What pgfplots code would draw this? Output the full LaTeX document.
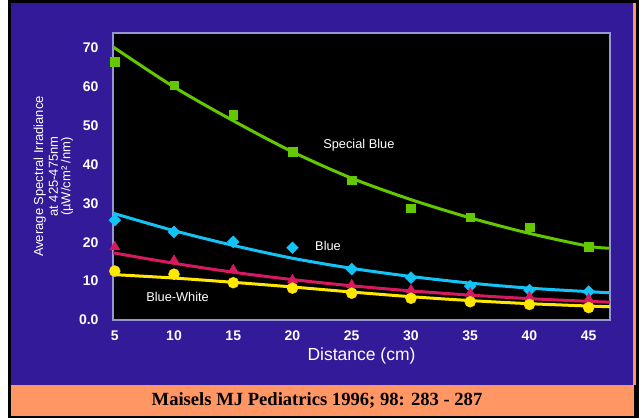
\documentclass[border=0pt]{standalone}
\usepackage{pgfplots}
\pgfplotsset{compat=1.18}
\usepackage{fontspec}
\setmainfont{Liberation Sans}
\newfontfamily\serifbf{Liberation Serif}
\definecolor{bgpurple}{RGB}{50,26,152}
\definecolor{banner}{RGB}{255,150,100}
\definecolor{frameC}{RGB}{150,150,215}
\definecolor{cgreen}{RGB}{100,200,0}
\definecolor{ccyan}{RGB}{20,195,245}
\definecolor{cred}{RGB}{215,25,95}
\definecolor{cyellow}{RGB}{255,232,0}
\begin{document}
\begin{tikzpicture}[x=1pt,y=1pt]
\fill[white] (0,0) rectangle (639,419);
\fill[black] (8,1) rectangle (639,419);
\fill[bgpurple] (11,34) rectangle (633,416);
\fill[banner] (11,3) rectangle (634,34);
\fill[banner] (633,34) rectangle (636,416);
\node[font=\serifbf\bfseries\fontsize{18.6}{20}\selectfont] at (317,18.5) {Maisels MJ Pediatrics 1996; 98: 283 - 287};
\begin{axis}[
  at={(113pt,99pt)}, anchor=south west,
  scale only axis, width=497pt, height=287pt,
  xmin=4.85, xmax=46.8, ymin=0, ymax=73.9,
  axis background/.style={fill=black},
  axis line style={draw=frameC, line width=1.1pt},
  xtick={5,10,...,45}, ytick={0,10,...,70},
  yticklabels={0.0,10,20,30,40,50,60,70},
  major tick length=0pt,
  tick label style={text=white, font=\bfseries\fontsize{14}{15}\selectfont},
  /pgf/number format/assume math mode=true,
  xticklabel style={yshift=-7pt},
  yticklabel style={xshift=-11pt},
  xlabel={Distance (cm)},
  xlabel style={text=white, font=\fontsize{17.5}{19}\selectfont, yshift=0pt},
  ylabel={\shortstack{Average Spectral Irradiance\\at 425-475nm\\(µW/cm² /nm)}},
  ylabel style={text=white, font=\fontsize{13}{14}\selectfont, yshift=-1pt},
  clip=true,
]
% Special Blue
\addplot[cgreen, line width=3pt, smooth] coordinates {(4.85,70.3)(5,70)(10,60)(15,51.3)(20,43.3)(25,36.5)(30,31)(35,26.3)(40,22.3)(45,19.0)(46.8,18.5)};
\addplot[only marks, mark=square*, mark size=4.3pt, cgreen] coordinates {(5,66.5)(10,60.5)(15,52.8)(20,43.3)(25,36)(30,28.8)(35,26.5)(40,23.9)(45,18.8)};
% Blue
\addplot[ccyan, line width=3pt, smooth] coordinates {(4.85,27.5)(10,23)(15,19.2)(20,15.9)(25,13.3)(30,11.2)(35,9.5)(40,8.2)(45,7.3)(46.8,7.0)};
\addplot[only marks, mark=square*, mark size=4.2pt, mark options={rotate=45}, ccyan] coordinates {(5,25.7)(10,22.7)(15,20.1)(20,18.6)(25,13.1)(30,10.9)(35,8.7)(40,7.7)(45,7.3)};
% Red
\addplot[cred, line width=3pt, smooth] coordinates {(4.85,17.3)(10,14.6)(15,12.3)(20,10.4)(25,8.8)(30,7.5)(35,6.4)(40,5.5)(45,4.8)(46.8,4.6)};
\addplot[only marks, mark=triangle*, mark size=5.8pt, cred] coordinates {(5,18.8)(10,15.3)(15,12.9)(20,10.3)(25,9.0)(30,7.7)(35,6.9)(40,5.9)(45,5.4)};
% Yellow
\addplot[cyellow, line width=3pt, smooth] coordinates {(4.85,11.7)(10,10.8)(15,9.7)(20,8.5)(25,7.2)(30,6.0)(35,5.0)(40,4.2)(45,3.6)(46.8,3.4)};
\addplot[only marks, mark=*, mark size=5.5pt, cyellow] coordinates {(5,12.6)(10,11.8)(15,9.6)(20,8.2)(25,6.9)(30,5.6)(35,4.7)(40,4.0)(45,3.2)};
\node[text=white, font=\fontsize{12.8}{14}\selectfont] at (axis cs:25.6,45) {Special Blue};
\node[text=white, font=\fontsize{12.8}{14}\selectfont] at (axis cs:23.0,19) {Blue};
\node[text=white, font=\fontsize{12.8}{14}\selectfont] at (axis cs:10.3,5.9) {Blue-White};
\end{axis}
\end{tikzpicture}
\end{document}
